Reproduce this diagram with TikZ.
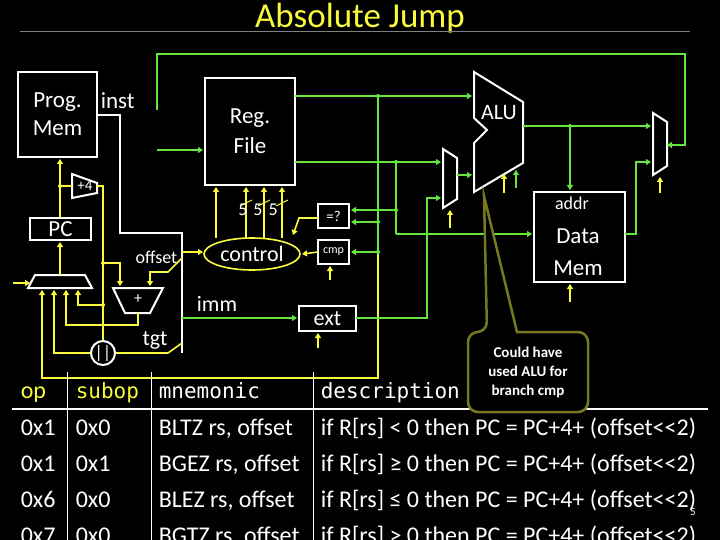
\documentclass[tikz,border=0pt]{standalone}
\usepackage{fontspec}
\setmainfont{Carlito}
\newfontfamily\monof{DejaVu Sans Mono}
\usetikzlibrary{arrows.meta,shapes.geometric}
\definecolor{yel}{RGB}{250,250,60}
\definecolor{grn}{RGB}{100,230,60}
\definecolor{olv}{RGB}{120,120,30}
\begin{document}
\begin{tikzpicture}[x=1pt,y=-1pt,line width=1.6pt,
  box/.style={draw=white,line width=2pt,fill=black,text=white,align=center,inner sep=0},
  yw/.style={draw=yel},gw/.style={draw=grn},ww/.style={draw=white},
  ya/.style={draw=yel,-{Triangle[length=5pt,width=6pt]}},
  ga/.style={draw=grn,-{Triangle[length=5pt,width=6pt]}},
  dy/.style={circle,fill=yel,inner sep=0,minimum size=4pt},
  dg/.style={circle,fill=grn,inner sep=0,minimum size=4pt},
  lbl/.style={text=white,font=\fontsize{16}{16}\selectfont,inner sep=0},
  tb/.style={text=white,font=\fontsize{24}{24}\selectfont,anchor=base west,inner sep=0}]
\fill[black] (0,0) rectangle (720,540);
\useasboundingbox (0,0) rectangle (720,540);
\node[text=yel,font=\fontsize{35}{35}\selectfont,anchor=base,inner sep=0] (title) at (360,28) {Absolute Jump};
\draw[gray,line width=1pt] (20,32) -- (690,32);
% boxes
\node[box,minimum width=79pt,minimum height=85pt,font=\fontsize{23}{28}\selectfont] (pm) at (57.5,114.5) {Prog.\\Mem};
\node[lbl,anchor=west,font=\fontsize{23}{23}\selectfont] (inst) at (100,101) {inst};
\node[box,minimum width=90pt,minimum height=107pt,font=\fontsize{23}{30}\selectfont] (rf) at (250,131.5) {Reg.\\File};
\node[box,minimum width=61pt,minimum height=22pt,font=\fontsize{23}{23}\selectfont] (pc) at (60.5,229) {PC};
\node[box,minimum width=31pt,minimum height=24pt,font=\fontsize{15}{15}\selectfont] (eq) at (333.5,216) {=?};
\node[box,minimum width=31pt,minimum height=24pt,font=\fontsize{12}{12}\selectfont] (cmp) at (333.5,252) {cmp};
\node[box,minimum width=57pt,minimum height=25pt,font=\fontsize{22}{22}\selectfont] (ext) at (327.5,318.5) {ext};
\node[box,minimum width=91pt,minimum height=90pt] (dm) at (579.5,237) {};
\node[lbl,font=\fontsize{18}{18}\selectfont] (addr) at (572,203) {addr};
\node[lbl,font=\fontsize{23}{23}\selectfont] (data) at (578,236) {Data};
\node[lbl,font=\fontsize{23}{23}\selectfont] (mem) at (578,268) {Mem};
\node[draw=yel,ellipse,minimum width=96pt,minimum height=32pt,text=white,font=\fontsize{22}{22}\selectfont,inner sep=0] (ctl) at (252,254) {control};
% trapezoids
\draw[white,line width=2pt,fill=black] (72,174) -- (97,183) -- (97,193) -- (72,198) -- cycle;
\node[lbl,font=\fontsize{15}{15}\selectfont] (p4) at (85,186) {+4};
\draw[white,line width=2pt,fill=black] (35,275) -- (85,275) -- (92,288) -- (28,288) -- cycle;
\draw[white,line width=2pt,fill=black] (113,288) -- (163,288) -- (150,313) -- (125,313) -- cycle;
\node[lbl] (pl) at (138,299) {+};
\draw[white,line width=2pt,fill=black] (443,149) -- (457,158) -- (457,199) -- (443,208) -- cycle;
\draw[white,line width=2pt,fill=black] (653,113) -- (667,122) -- (667,166) -- (653,175) -- cycle;
\draw[white,line width=2pt,fill=black] (474,72) -- (523,102) -- (523,163) -- (474,192) -- (474,143) -- (487,130) -- (474,118) -- cycle;
\node[lbl,font=\fontsize{22}{22}\selectfont] (alu) at (499,113) {ALU};
\node[draw=white,line width=2pt,circle,minimum size=24pt,fill=black,inner sep=0,text=white,font=\fontsize{18}{18}\selectfont] (cat) at (103,353) {||};
% white inst bus
\draw[ww,line width=2pt] (97,115) -- (120,115) -- (120,233) -- (182,233) -- (182,353);
% yellow wiring
\draw[ya] (60,218) -- (60,159);
\node[dy] (d1) at (60,186) {};
\draw[yw] (60,186) -- (72,186);
\draw[ya] (60,275) -- (60,242);
\draw[yw] (97,186) -- (103,186) -- (cat.north);
\node[dy] (d2) at (103,263) {};
\node[dy] (d3) at (103,305) {};
\draw[ya] (103,263) -- (120,263) -- (120,286);
\draw[ya] (103,305) -- (78,305) -- (78,290);
\draw[ya] (138,313) -- (138,325) -- (66,325) -- (66,290);
\draw[ya] (cat.west) -- (54,353) -- (54,290);
\draw[ya] (378,252) -- (378,378) -- (42,378) -- (42,290);
\draw[ya] (13,283) -- (30,283);
\draw[ya] (182,258) -- (168,272) -- (150,272) -- (150,286);
\draw[yw] (182,343) -- (168,353) -- (cat.east);
\draw[ya] (182,252) -- (203,252);
\node[lbl,anchor=east,font=\fontsize{18}{18}\selectfont] (off) at (178,257) {offset};
\node[lbl,font=\fontsize{22}{22}\selectfont] (tgt) at (155,340) {tgt};
\node[lbl,font=\fontsize{22}{22}\selectfont] (imm) at (217,304) {imm};
\draw[ya] (216,238) -- (216,187);
\foreach \xx in {246,264,282}{\draw[ya] (\xx,238) -- (\xx,187); \draw[yel,line width=1pt] (\xx-6,206) -- (\xx+6,200);}
\node[lbl,font=\fontsize{18}{18}\selectfont] (fv) at (258,210) {5\,\,5\,\,5};
\draw[ya] (318,218) -- (299,218) -- (293,235);
\draw[ya] (318,252) -- (302,254);
\draw[ya] (330,280) -- (330,266);
\draw[ya] (318,348) -- (318,333);
\draw[ya] (450,228) -- (450,210);
\draw[ya] (504,193) -- (504,174);
\draw[ya] (570,302) -- (570,284);
\draw[ya] (660,193) -- (660,177);
% green wiring
\draw[ga] (157,110) -- (157,54) -- (685,54) -- (685,145) -- (667,145);
\draw[ga] (157,150) -- (203,150);
\draw[ga] (295,96) -- (472,96);
\draw[ga] (295,162) -- (441,162);
\draw[gw] (378,96) -- (378,252);
\draw[ga] (378,222) -- (351,222);
\draw[ga] (378,252) -- (351,252);
\draw[gw] (396,162) -- (396,234);
\draw[ga] (396,210) -- (351,210);
\draw[ga] (396,234) -- (532,234);
\draw[ga] (182,318) -- (193,318) -- (297,318);
\draw[ga] (356,318) -- (427,318) -- (427,198) -- (441,198);
\draw[ga] (457,175) -- (472,175);
\draw[ga] (516,188) -- (516,170);
\draw[ga] (523,126) -- (651,126);
\draw[ga] (570,126) -- (570,190);
\draw[ga] (625,234) -- (636,234) -- (636,162) -- (651,162);
\foreach \p in {(378,96),(378,222),(378,252),(396,162),(396,210),(570,126)}{\node[dg] at \p {};}
% table
\draw[white,line width=1pt] (67,372) -- (67,540) (151,372) -- (151,540) (313,372) -- (313,540);
\draw[white,line width=2pt] (12,409) -- (708,409);
\node[tb,text=yel] (h1) at (20,398) {op};
\node[tb,text=yel,font=\monof\fontsize{21}{21}\selectfont] (h2) at (75,398) {subop};
\node[tb,font=\monof\fontsize{21}{21}\selectfont] (h3) at (158,398) {mnemonic};
\node[tb,font=\monof\fontsize{21}{21}\selectfont] (h4) at (320,398) {description};
\foreach \yy/\a/\b/\c/\d in {435/0x1/0x0/BLTZ/<,471/0x1/0x1/BGEZ/≥,507/0x6/0x0/BLEZ/≤,543/0x7/0x0/BGTZ/>}{
  \node[tb] at (20,\yy) {\a};
  \node[tb] at (75,\yy) {\b};
  \node[tb] at (158,\yy) {\c\ rs, offset};
  \node[tb] at (320,\yy) {if R[rs] \d\ 0 then PC = PC+4+ (offset{<}{<}2)};}
\node[lbl,font=\fontsize{11}{11}\selectfont] (pg) at (693,512) {5};
% callout
\draw[olv,line width=2.5pt,fill=black,rounded corners=10pt] (468,332) -- (487,332) [sharp corners] -- (484,196) -- (517,332) [rounded corners=10pt] -- (588,332) -- (588,412) -- (468,412) -- cycle;
\node[text=white,font=\bfseries\fontsize{15}{19}\selectfont,align=center] (co) at (528,372) {Could have\\used ALU for\\branch cmp};
\end{tikzpicture}
\end{document}
